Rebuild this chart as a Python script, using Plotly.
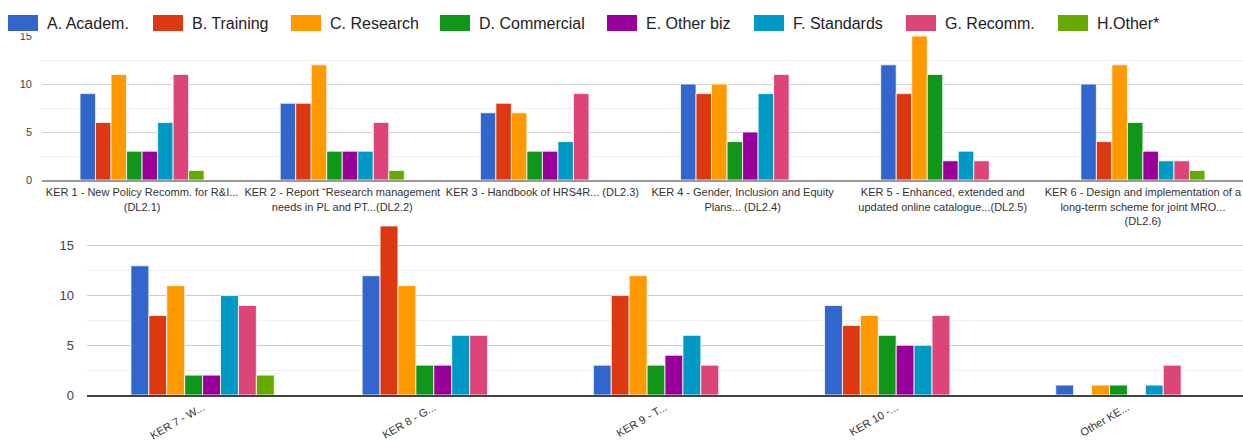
import plotly.graph_objects as go

W, H = 1243, 441

CATS_TOP = [
    "KER 1 - New Policy Recomm. for R&I...<br>(DL2.1)",
    "KER 2 - Report \u201cResearch management<br>needs in PL and PT...(DL2.2)",
    "KER 3 - Handbook of HRS4R... (DL2.3)",
    "KER 4 - Gender, Inclusion and Equity<br>Plans... (DL2.4)",
    "KER 5 - Enhanced, extended and<br>updated online catalogue...(DL2.5)",
    "KER 6 - Design and implementation of a<br>long-term scheme for joint MRO...<br>(DL2.6)",
]
CATS_BOTTOM = ["KER 7 - W...", "KER 8 - G...", "KER 9 - T...", "KER 10 -...", "Other KE..."]

SERIES = ["A. Academ.", "B. Training", "C. Research", "D. Commercial",
          "E. Other biz", "F. Standards", "G. Recomm.", "H.Other*"]
COLORS = ["#3366cc", "#dc3912", "#ff9900", "#109618",
          "#990099", "#0099c6", "#dd4477", "#66aa00"]

# values per series: KER1..KER6, then KER7..KER10, Other
A_ACADEM     = [9, 8, 7, 10, 12, 10, 13, 12, 3, 9, 1]
B_TRAINING   = [6, 8, 8, 9, 9, 4, 8, 17, 10, 7, 0]
C_RESEARCH   = [11, 12, 7, 10, 15, 12, 11, 11, 12, 8, 1]
D_COMMERCIAL = [3, 3, 3, 4, 11, 6, 2, 3, 3, 6, 1]
E_OTHERBIZ   = [3, 3, 3, 5, 2, 3, 2, 3, 4, 5, 0]
F_STANDARDS  = [6, 3, 4, 9, 3, 2, 10, 6, 6, 5, 1]
G_RECOMM     = [11, 6, 9, 11, 2, 2, 9, 6, 3, 8, 3]
H_OTHER      = [1, 1, 0, 0, 0, 1, 2, 0, 0, 0, 0]

VALUES = [A_ACADEM, B_TRAINING, C_RESEARCH, D_COMMERCIAL,
          E_OTHERBIZ, F_STANDARDS, G_RECOMM, H_OTHER]

# legend layout (pixel x of each swatch)
LEGEND_X = [8, 153, 291, 440, 607, 754, 906, 1058]

n_top = len(CATS_TOP)
fig = go.Figure()
for name, color, vals in zip(SERIES, COLORS, VALUES):
    fig.add_trace(go.Bar(x=CATS_TOP, y=vals[:n_top], name=name, marker_color=color,
                         marker_line=dict(color="rgba(255,255,255,0.8)", width=1),
                         xaxis="x", yaxis="y", showlegend=False, hoverinfo="y"))
    fig.add_trace(go.Bar(x=CATS_BOTTOM, y=vals[n_top:], name=name, marker_color=color,
                         marker_line=dict(color="rgba(255,255,255,0.8)", width=1),
                         xaxis="x2", yaxis="y2", showlegend=False, hoverinfo="y"))

def px(x):
    return x / W

def py(y):
    return (H - y) / H

FONT = "Liberation Sans, Arial, sans-serif"

shapes = [dict(type="rect", xref="paper", yref="paper", x0=0, x1=1, y0=py(33), y1=1,
               fillcolor="white", line=dict(width=0), layer="above")]
annotations = []
for name, color, lx in zip(SERIES, COLORS, LEGEND_X):
    shapes.append(dict(type="rect", xref="paper", yref="paper",
                       x0=px(lx), x1=px(lx + 30), y0=py(31), y1=py(15),
                       fillcolor=color, line=dict(width=0), layer="above"))
    annotations.append(dict(text=name, xref="paper", yref="paper", x=px(lx + 37), y=py(23),
                            xanchor="left", yanchor="middle", showarrow=False,
                            font=dict(family=FONT, size=16, color="#222222")))

fig.update_layout(
    width=W, height=H, autosize=False,
    margin=dict(l=0, r=0, t=0, b=0, autoexpand=False),
    paper_bgcolor="white", plot_bgcolor="white",
    barmode="group", bargap=0.38, bargroupgap=0.0,
    font=dict(family=FONT, color="#444444"),
    shapes=shapes, annotations=annotations,
    xaxis=dict(domain=[px(42), 1], anchor="y", tickangle=0, tickfont=dict(size=11, color="#333333"),
               showline=True, linecolor="#999999", linewidth=2, ticks="", showgrid=False,
               automargin=False, ticklabelstandoff=1),
    yaxis=dict(domain=[py(180), py(36)], anchor="x", range=[0, 15], tickvals=[0, 5, 10, 15],
               tickfont=dict(size=11, color="#444444"), gridcolor="#d4d4d4", zeroline=False,
               ticklabelstandoff=9, automargin=False,
               minor=dict(dtick=2.5, tick0=0, showgrid=True, gridcolor="#efefef")),
    xaxis2=dict(domain=[px(87), 1], anchor="y2", tickangle=-30, tickfont=dict(size=11, color="#333333"),
                showline=True, linecolor="#444444", linewidth=2, ticks="", showgrid=False,
                automargin=False),
    yaxis2=dict(domain=[py(395), py(222)], anchor="x2", range=[0, 17.4], tickvals=[0, 5, 10, 15],
                tickfont=dict(size=13, color="#444444"), gridcolor="#cccccc", zeroline=False,
                ticklabelstandoff=12, automargin=False,
                minor=dict(dtick=2.5, tick0=0, showgrid=True, gridcolor="#efefef")),
)

fig.write_html("out.html")
